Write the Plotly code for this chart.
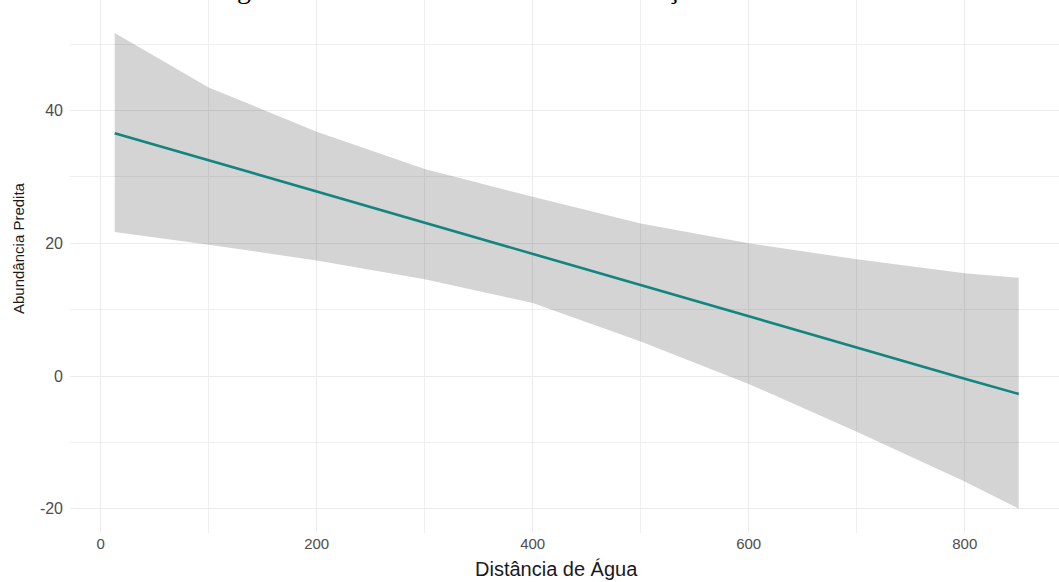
import plotly.graph_objects as go

# Data
dist = [13, 100, 200, 300, 400, 500, 600, 700, 800, 850]
pred = [36.6, 32.5, 27.8, 23.1, 18.4, 13.7, 9.0, 4.3, -0.4, -2.7]
upper = [51.7, 43.5, 36.8, 31.2, 27.0, 23.0, 20.0, 17.6, 15.5, 14.8]
lower = [21.7, 19.8, 17.4, 14.6, 11.0, 5.2, -1.2, -8.4, -15.9, -20.0]

x_ticks = [0, 200, 400, 600, 800]
y_ticks = [-20, 0, 20, 40]

title_text = "Regressão Linear da Abundância em Função da Distância"
x_title = "Distância de Água"
y_title = "Abundância Predita"

fig = go.Figure()
fig.add_trace(go.Scatter(
    x=dist + dist[::-1], y=upper + lower[::-1],
    fill="toself", fillcolor="rgba(51,51,51,0.21)",
    line=dict(width=0), mode="lines", hoverinfo="skip", showlegend=False))
fig.add_trace(go.Scatter(
    x=dist, y=pred, mode="lines",
    line=dict(color="#12857f", width=2.6), showlegend=False))

W, H = 1059, 582
L, R, T, B = 70, 0, 0, 49
fig.update_layout(
    width=W, height=H,
    margin=dict(l=L, r=R, t=T, b=B, autoexpand=False),
    plot_bgcolor="white", paper_bgcolor="white",
    font=dict(family="Liberation Sans, Arial, sans-serif", color="#4D4D4D"),
    showlegend=False,
)
grid_major = "#EBEBEB"
grid_minor = "#EFEFEF"
fig.update_xaxes(
    range=[-28.4, 887.3], tickmode="array", tickvals=x_ticks,
    ticktext=[str(v) for v in x_ticks],
    showgrid=True, gridcolor=grid_major, gridwidth=1.1,
    minor=dict(dtick=100, tick0=0, showgrid=True, gridcolor=grid_minor, gridwidth=0.8),
    zeroline=False, showline=False, ticks="",
    tickfont=dict(size=15, color="#4D4D4D"), automargin=False)
fig.update_yaxes(
    range=[-23.66, 56.67], tickmode="array", tickvals=y_ticks,
    ticktext=[str(v) for v in y_ticks],
    showgrid=True, gridcolor=grid_major, gridwidth=1.1,
    minor=dict(dtick=10, tick0=0, showgrid=True, gridcolor=grid_minor, gridwidth=0.8),
    zeroline=False, showline=False, ticks="", ticklabelstandoff=6,
    tickfont=dict(size=16, color="#4D4D4D"), automargin=False)

pw = W - L - R
ph = H - T - B
fig.add_annotation(text=x_title, xref="paper", yref="paper",
                   x=(556 - L) / pw, y=(ph - 569 + T) / ph,
                   xanchor="center", yanchor="middle", showarrow=False,
                   font=dict(size=20, color="#1a1a1a"))
fig.add_annotation(text=y_title, xref="paper", yref="paper",
                   x=(18 - L) / pw, y=(ph - 248 + T) / ph, textangle=-90,
                   xanchor="center", yanchor="middle", showarrow=False,
                   font=dict(size=15, color="#1a1a1a"))
fig.add_annotation(text=title_text, xref="paper", yref="paper",
                   x=(204 - L) / pw, y=1, xanchor="left", yanchor="bottom",
                   yshift=-6, showarrow=False,
                   font=dict(family="Liberation Serif, Times New Roman, serif",
                             size=28, color="black"))

fig.write_html("out.html")
